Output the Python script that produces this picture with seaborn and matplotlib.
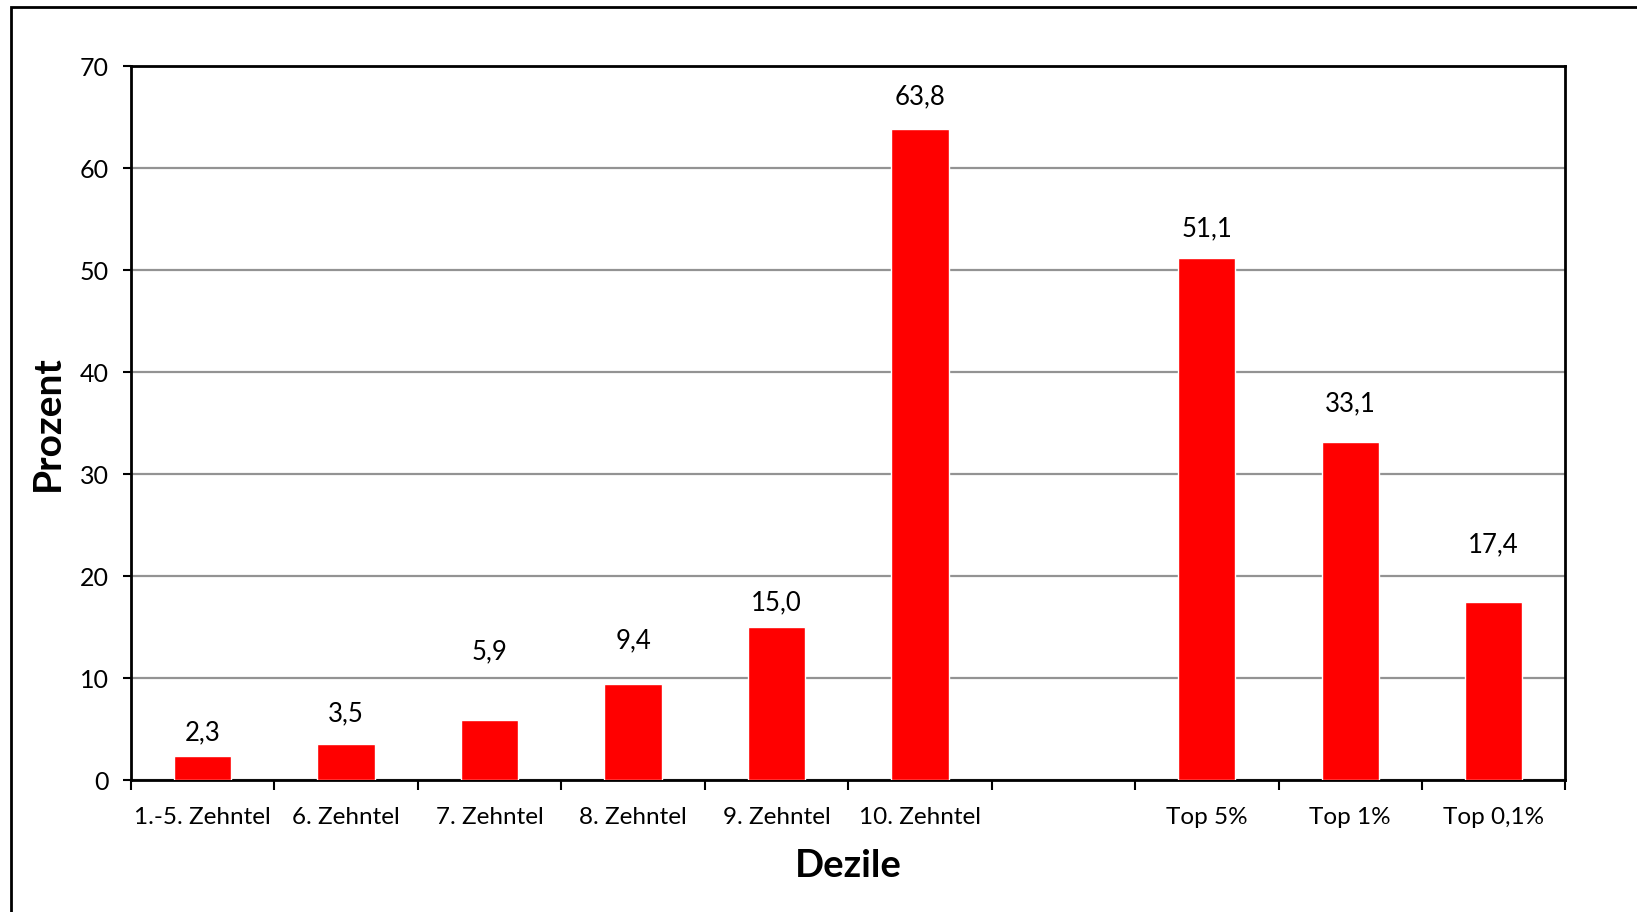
import matplotlib
matplotlib.use("Agg")
import matplotlib.pyplot as plt
import seaborn as sns
import pandas as pd
import numpy as np
from matplotlib.patches import Rectangle

# ---- data ----
categories = ["1.-5. Zehntel", "6. Zehntel", "7. Zehntel", "8. Zehntel",
              "9. Zehntel", "10. Zehntel", " ", "Top 5%", "Top 1%", "Top 0,1%"]
values = [2.3, 3.5, 5.9, 9.4, 15.0, 63.8, np.nan, 51.1, 33.1, 17.4]
y_ticks = [0, 10, 20, 30, 40, 50, 60, 70]

# label offsets above bar tops (pixels), as placed in the original
label_offsets_px = [24, 31, 68, 44, 24, 32, 0, 30, 39, 58]

sns.set_theme(style="white")
plt.rcParams['font.family'] = ['Lato', 'DejaVu Sans']

W, H = 1637, 912
fig = plt.figure(figsize=((W + 0.4) / 100, (H + 0.4) / 100), dpi=100)
fig.patch.set_facecolor("white")
L, R, T, B = 131, 1565, 66, 780
ax = fig.add_axes([L / W, 1 - B / H, (R - L) / W, (B - T) / H])

df = pd.DataFrame({"cat": categories, "val": values})
sns.barplot(data=df, x="cat", y="val", order=categories, color="#FF0000",
            saturation=1, width=0.4, errorbar=None, ax=ax, zorder=3)

ax.set_xlim(-0.5, len(categories) - 0.5)
ax.set_ylim(0, 70)
ax.set_yticks(y_ticks)
ax.set_yticklabels([str(t) for t in y_ticks], fontsize=18, color="black")

# tick marks at category boundaries, labels at centers
ax.set_xticks(np.arange(-0.5, len(categories), 1))
ax.set_xticklabels([])
ax.set_xticks(np.arange(len(categories)), minor=True)
ax.set_xticklabels(categories, minor=True, fontsize=17.5, color="black")
ax.tick_params(axis="x", which="major", bottom=True, length=7, width=1.5,
               direction="out", color="black")
ax.tick_params(axis="x", which="minor", bottom=True, length=0, pad=19)
ax.tick_params(axis="y", left=True, length=6, width=1.5, direction="out",
               color="black", pad=10)

ax.yaxis.grid(True, color="#939393", linewidth=1.6)
ax.xaxis.grid(False)
ax.set_axisbelow(True)
for s in ax.spines.values():
    s.set_visible(True)
    s.set_color("black")
    s.set_linewidth(2)

for i, (v, off) in enumerate(zip(values, label_offsets_px)):
    if np.isnan(v):
        continue
    ax.annotate(f"{v:.1f}".replace(".", ","), xy=(i, v), xytext=(0, off * 0.72),
                textcoords="offset points", ha="center", va="center",
                fontsize=18.5, color="black")

ax.set_xlabel("Dezile", fontsize=27.5, fontweight="bold", color="black")
ax.xaxis.label.set_va("center")
ax.xaxis.set_label_coords(0.5, (B - 866) / (B - T))
ax.set_ylabel("Prozent", fontsize=28, fontweight="bold", color="black")
ax.yaxis.label.set_va("center")
ax.yaxis.set_label_coords((47 - L) / (R - L), 0.5)

# outer frame (visible on left and top)
fig.patches.append(Rectangle((11 / W, -0.1), 1.2, 1 - 7 / H + 0.1, fill=False,
                             edgecolor="black", linewidth=2,
                             transform=fig.transFigure, clip_on=False))

fig.savefig("out.png", dpi=100, facecolor="white")
